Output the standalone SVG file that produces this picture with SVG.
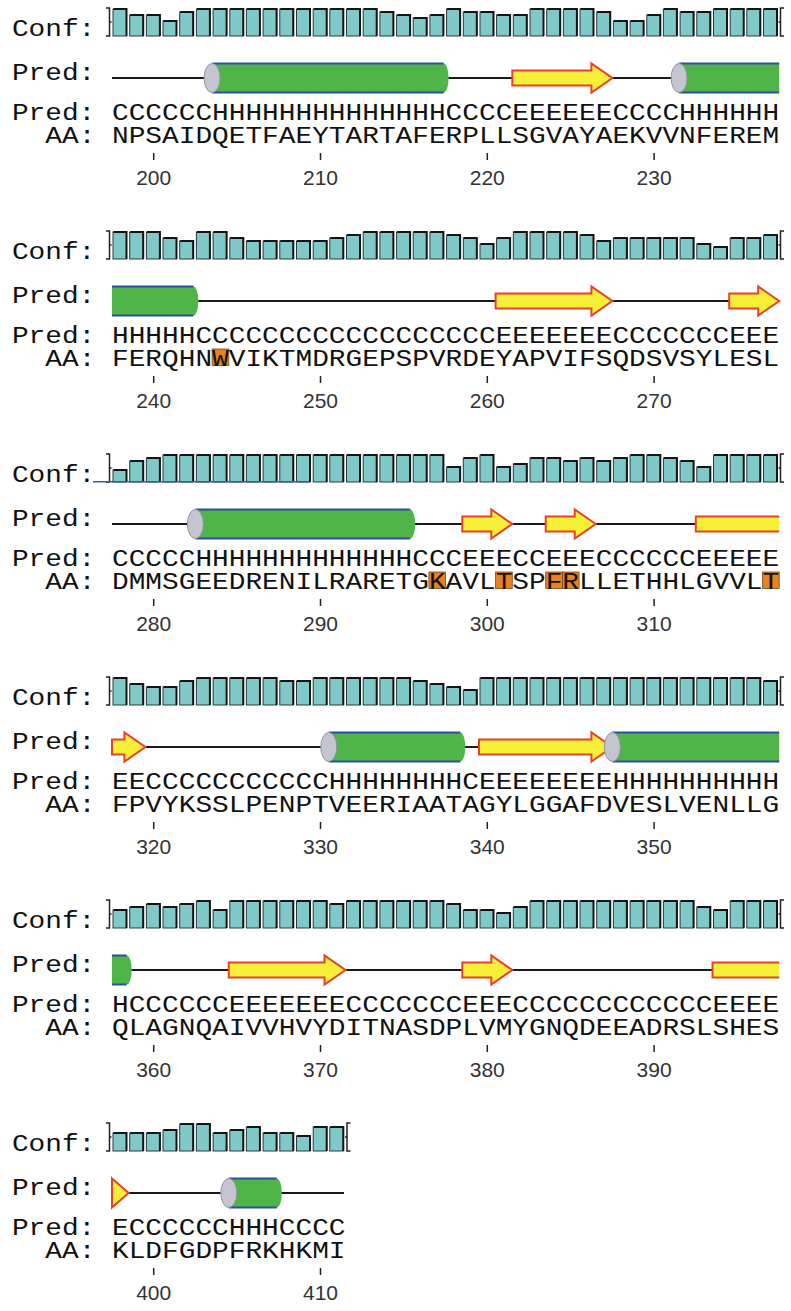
<svg xmlns="http://www.w3.org/2000/svg" width="791" height="1311" viewBox="0 0 791 1311">
<style>
.lbl,.seq{font-family:"Liberation Mono","DejaVu Sans Mono",monospace;font-size:23.5px;fill:#111}
.num{font-family:"Liberation Sans",Arial,sans-serif;font-size:21px;fill:#333;text-anchor:middle}
.brk{fill:none;stroke:#222;stroke-width:1.5}
.coil{stroke:#1a1a1a;stroke-width:1.8}
.helix{fill:#4fb548}
.hedge{fill:none;stroke:#2f4f9e;stroke-width:2}
.cap{fill:#c4c5ce;stroke:#9092a4;stroke-width:1}
.strand{fill:#f5ef38;stroke:#e8412b;stroke-width:2;stroke-linejoin:miter}
.sfill{fill:#f5ef38}
.sedge{fill:none;stroke:#e8412b;stroke-width:2}
.hl{fill:#e8821f;stroke:#6e4a22;stroke-width:0.8}
.tick{stroke:#222;stroke-width:1.5}
.blue{stroke:#3a5ab8;stroke-width:1.5;fill:none}
</style>
<defs>
<g id="b4"><rect x="0" y="24" width="13.5" height="12" fill="#7fc9c8" stroke="#2a3a3a" stroke-width="1"/><path d="M0.5,24 H13.5 V36" fill="none" stroke="#141414" stroke-width="2"/></g>
<g id="b5"><rect x="0" y="21" width="13.5" height="15" fill="#7fc9c8" stroke="#2a3a3a" stroke-width="1"/><path d="M0.5,21 H13.5 V36" fill="none" stroke="#141414" stroke-width="2"/></g>
<g id="b6"><rect x="0" y="18" width="13.5" height="18" fill="#7fc9c8" stroke="#2a3a3a" stroke-width="1"/><path d="M0.5,18 H13.5 V36" fill="none" stroke="#141414" stroke-width="2"/></g>
<g id="b7"><rect x="0" y="15" width="13.5" height="21" fill="#7fc9c8" stroke="#2a3a3a" stroke-width="1"/><path d="M0.5,15 H13.5 V36" fill="none" stroke="#141414" stroke-width="2"/></g>
<g id="b8"><rect x="0" y="12" width="13.5" height="24" fill="#7fc9c8" stroke="#2a3a3a" stroke-width="1"/><path d="M0.5,12 H13.5 V36" fill="none" stroke="#141414" stroke-width="2"/></g>
<g id="b9"><rect x="0" y="9" width="13.5" height="27" fill="#7fc9c8" stroke="#2a3a3a" stroke-width="1"/><path d="M0.5,9 H13.5 V36" fill="none" stroke="#141414" stroke-width="2"/></g>
</defs>
<rect width="791" height="1311" fill="#fff"/>

<g id="connectors">
<line class="coil" x1="112" y1="78" x2="779" y2="78"/>
<line class="coil" x1="112" y1="301" x2="779" y2="301"/>
<line class="coil" x1="112" y1="524" x2="779" y2="524"/>
<line class="coil" x1="112" y1="747" x2="779" y2="747"/>
<line class="coil" x1="112" y1="970" x2="779" y2="970"/>
<line class="coil" x1="112" y1="1193" x2="344" y2="1193"/>
</g>

<g id="row1">
<g id="row1-conf">
<text class="lbl" x="11.9" y="36" textLength="83.4" lengthAdjust="spacingAndGlyphs">Conf:</text>
<path class="brk" d="M106,8 H109.5 V36 H106 M109.5,22 H111.5"/>
<use href="#b9" x="113"/><use href="#b7" x="129.7"/><use href="#b7" x="146.4"/><use href="#b5" x="163"/><use href="#b8" x="179.7"/>
<use href="#b9" x="196.4"/><use href="#b9" x="213.1"/><use href="#b9" x="229.8"/><use href="#b9" x="246.4"/><use href="#b9" x="263.1"/>
<use href="#b9" x="279.8"/><use href="#b9" x="296.5"/><use href="#b9" x="313.2"/><use href="#b9" x="329.8"/><use href="#b9" x="346.5"/>
<use href="#b9" x="363.2"/><use href="#b8" x="379.9"/><use href="#b7" x="396.6"/><use href="#b6" x="413.2"/><use href="#b7" x="429.9"/>
<use href="#b9" x="446.6"/><use href="#b8" x="463.3"/><use href="#b8" x="480"/><use href="#b7" x="496.6"/><use href="#b7" x="513.3"/>
<use href="#b9" x="530"/><use href="#b9" x="546.7"/><use href="#b9" x="563.4"/><use href="#b9" x="580"/><use href="#b8" x="596.7"/>
<use href="#b5" x="613.4"/><use href="#b5" x="630.1"/><use href="#b7" x="646.8"/><use href="#b9" x="663.4"/><use href="#b8" x="680.1"/>
<use href="#b8" x="696.8"/><use href="#b9" x="713.5"/><use href="#b9" x="730.2"/><use href="#b9" x="746.8"/><use href="#b9" x="763.5"/>
<path class="brk" d="M784,8 H780.5 V36 H784 M780.5,22 H778.5"/>
</g>
<g id="row1-pred">
<text class="lbl" x="11.9" y="79.5" textLength="83.4" lengthAdjust="spacingAndGlyphs">Pred:</text>
<path class="helix" d="M212.1,63.5 H443.6 A5,14.5 0 0 1 443.6,92.5 H212.1 Z"/>
<path class="hedge" d="M212.1,63.5 H443.6 M212.1,92.5 H443.6"/>
<ellipse class="cap" cx="212.1" cy="78" rx="8" ry="14.5"/>
<polygon class="strand" points="512.3,70.5 591.4,70.5 591.4,63.5 612.4,78 591.4,92.5 591.4,85.5 512.3,85.5"/>
<path class="helix" d="M679.1,63.5 H779.2 V92.5 H679.1 Z"/>
<path class="hedge" d="M679.1,63.5 H779.2 M679.1,92.5 H779.2"/>
<ellipse class="cap" cx="679.1" cy="78" rx="8" ry="14.5"/>
</g>
<g id="row1-seq">
<text class="lbl" x="11.9" y="119.5" textLength="83.4" lengthAdjust="spacingAndGlyphs">Pred:</text>
<text class="seq" x="112" y="119.5" textLength="667.2" lengthAdjust="spacingAndGlyphs">CCCCCCHHHHHHHHHHHHHHCCCCEEEEEECCCCHHHHHH</text>
<text class="lbl" x="45.3" y="143" textLength="50" lengthAdjust="spacingAndGlyphs">AA:</text>
<text class="seq" x="112" y="143" textLength="667.2" lengthAdjust="spacingAndGlyphs">NPSAIDQETFAEYTARTAFERPLLSGVAYAEKVVNFEREM</text>
<path class="tick" d="M153.7,153 V160 M320.5,153 V160 M487.3,153 V160 M654.1,153 V160"/>
<text class="num" x="153.7" y="185">200</text><text class="num" x="320.5" y="185">210</text><text class="num" x="487.3" y="185">220</text><text class="num" x="654.1" y="185">230</text>
</g>
</g>

<g id="row2" transform="translate(0,223)">
<g id="row2-conf">
<text class="lbl" x="11.9" y="36" textLength="83.4" lengthAdjust="spacingAndGlyphs">Conf:</text>
<path class="brk" d="M106,8 H109.5 V36 H106 M109.5,22 H111.5"/>
<use href="#b9" x="113"/><use href="#b9" x="129.7"/><use href="#b9" x="146.4"/><use href="#b7" x="163"/><use href="#b6" x="179.7"/>
<use href="#b9" x="196.4"/><use href="#b9" x="213.1"/><use href="#b7" x="229.8"/><use href="#b6" x="246.4"/><use href="#b6" x="263.1"/>
<use href="#b6" x="279.8"/><use href="#b6" x="296.5"/><use href="#b6" x="313.2"/><use href="#b7" x="329.8"/><use href="#b8" x="346.5"/>
<use href="#b9" x="363.2"/><use href="#b9" x="379.9"/><use href="#b9" x="396.6"/><use href="#b9" x="413.2"/><use href="#b9" x="429.9"/>
<use href="#b8" x="446.6"/><use href="#b7" x="463.3"/><use href="#b5" x="480"/><use href="#b7" x="496.6"/><use href="#b9" x="513.3"/>
<use href="#b9" x="530"/><use href="#b9" x="546.7"/><use href="#b9" x="563.4"/><use href="#b8" x="580"/><use href="#b6" x="596.7"/>
<use href="#b7" x="613.4"/><use href="#b7" x="630.1"/><use href="#b7" x="646.8"/><use href="#b7" x="663.4"/><use href="#b7" x="680.1"/>
<use href="#b5" x="696.8"/><use href="#b4" x="713.5"/><use href="#b7" x="730.2"/><use href="#b7" x="746.8"/><use href="#b8" x="763.5"/>
<path class="brk" d="M784,8 H780.5 V36 H784 M780.5,22 H778.5"/>
</g>
<g id="row2-pred">
<text class="lbl" x="11.9" y="79.5" textLength="83.4" lengthAdjust="spacingAndGlyphs">Pred:</text>
<path class="helix" d="M112,63.5 H193.4 A5,14.5 0 0 1 193.4,92.5 H112 Z"/>
<path class="hedge" d="M112,63.5 H193.4 M112,92.5 H193.4"/>
<polygon class="strand" points="495.6,70.5 591.4,70.5 591.4,63.5 612.4,78 591.4,92.5 591.4,85.5 495.6,85.5"/>
<polygon class="strand" points="729.2,70.5 758.2,70.5 758.2,63.5 779.2,78 758.2,92.5 758.2,85.5 729.2,85.5"/>
</g>
<g id="row2-seq">
<text class="lbl" x="11.9" y="119.5" textLength="83.4" lengthAdjust="spacingAndGlyphs">Pred:</text>
<text class="seq" x="112" y="119.5" textLength="667.2" lengthAdjust="spacingAndGlyphs">HHHHHCCCCCCCCCCCCCCCCCCEEEEEEECCCCCCCEEE</text>
<text class="lbl" x="45.3" y="143" textLength="50" lengthAdjust="spacingAndGlyphs">AA:</text>
<rect class="hl" x="212.1" y="126" width="16.68" height="16.5"/>
<text class="seq" x="112" y="143" textLength="667.2" lengthAdjust="spacingAndGlyphs">FERQHNWVIKTMDRGEPSPVRDEYAPVIFSQDSVSYLESL</text>
<path class="tick" d="M153.7,153 V160 M320.5,153 V160 M487.3,153 V160 M654.1,153 V160"/>
<text class="num" x="153.7" y="185">240</text><text class="num" x="320.5" y="185">250</text><text class="num" x="487.3" y="185">260</text><text class="num" x="654.1" y="185">270</text>
</g>
</g>

<g id="row3" transform="translate(0,446)">
<g id="row3-conf">
<text class="lbl" x="11.9" y="36" textLength="83.4" lengthAdjust="spacingAndGlyphs">Conf:</text>
<path class="brk" d="M106,8 H109.5 V36 H106 M109.5,22 H111.5"/>
<use href="#b4" x="113"/><use href="#b7" x="129.7"/><use href="#b8" x="146.4"/><use href="#b9" x="163"/><use href="#b9" x="179.7"/>
<use href="#b9" x="196.4"/><use href="#b9" x="213.1"/><use href="#b9" x="229.8"/><use href="#b9" x="246.4"/><use href="#b9" x="263.1"/>
<use href="#b9" x="279.8"/><use href="#b9" x="296.5"/><use href="#b9" x="313.2"/><use href="#b9" x="329.8"/><use href="#b9" x="346.5"/>
<use href="#b9" x="363.2"/><use href="#b9" x="379.9"/><use href="#b9" x="396.6"/><use href="#b9" x="413.2"/><use href="#b9" x="429.9"/>
<use href="#b5" x="446.6"/><use href="#b8" x="463.3"/><use href="#b9" x="480"/><use href="#b5" x="496.6"/><use href="#b6" x="513.3"/>
<use href="#b8" x="530"/><use href="#b8" x="546.7"/><use href="#b7" x="563.4"/><use href="#b8" x="580"/><use href="#b7" x="596.7"/>
<use href="#b8" x="613.4"/><use href="#b9" x="630.1"/><use href="#b9" x="646.8"/><use href="#b8" x="663.4"/><use href="#b7" x="680.1"/>
<use href="#b5" x="696.8"/><use href="#b9" x="713.5"/><use href="#b9" x="730.2"/><use href="#b9" x="746.8"/><use href="#b9" x="763.5"/>
<path class="brk" d="M784,8 H780.5 V36 H784 M780.5,22 H778.5"/>
<path class="blue" d="M93,35.8 H309"/>
</g>
<g id="row3-pred">
<text class="lbl" x="11.9" y="79.5" textLength="83.4" lengthAdjust="spacingAndGlyphs">Pred:</text>
<path class="helix" d="M195.4,63.5 H410.2 A5,14.5 0 0 1 410.2,92.5 H195.4 Z"/>
<path class="hedge" d="M195.4,63.5 H410.2 M195.4,92.5 H410.2"/>
<ellipse class="cap" cx="195.4" cy="78" rx="8" ry="14.5"/>
<polygon class="strand" points="462.3,70.5 491.3,70.5 491.3,63.5 512.3,78 491.3,92.5 491.3,85.5 462.3,85.5"/>
<polygon class="strand" points="545.7,70.5 574.7,70.5 574.7,63.5 595.7,78 574.7,92.5 574.7,85.5 545.7,85.5"/>
<rect class="sfill" x="695.8" y="70.5" width="83.4" height="15"/>
<path class="sedge" d="M779.2,70.5 H695.8 V85.5 H779.2"/>
</g>
<g id="row3-seq">
<text class="lbl" x="11.9" y="119.5" textLength="83.4" lengthAdjust="spacingAndGlyphs">Pred:</text>
<text class="seq" x="112" y="119.5" textLength="667.2" lengthAdjust="spacingAndGlyphs">CCCCCHHHHHHHHHHHHHCCCEEECCEEECCCCCCEEEEE</text>
<text class="lbl" x="45.3" y="143" textLength="50" lengthAdjust="spacingAndGlyphs">AA:</text>
<rect class="hl" x="428.9" y="126" width="16.68" height="16.5"/>
<rect class="hl" x="495.6" y="126" width="16.68" height="16.5"/>
<rect class="hl" x="545.7" y="126" width="16.68" height="16.5"/>
<rect class="hl" x="562.4" y="126" width="16.68" height="16.5"/>
<rect class="hl" x="762.5" y="126" width="16.68" height="16.5"/>
<text class="seq" x="112" y="143" textLength="667.2" lengthAdjust="spacingAndGlyphs">DMMSGEEDRENILRARETGKAVLTSPFRLLETHHLGVVLT</text>
<path class="tick" d="M153.7,153 V160 M320.5,153 V160 M487.3,153 V160 M654.1,153 V160"/>
<text class="num" x="153.7" y="185">280</text><text class="num" x="320.5" y="185">290</text><text class="num" x="487.3" y="185">300</text><text class="num" x="654.1" y="185">310</text>
</g>
</g>

<g id="row4" transform="translate(0,669)">
<g id="row4-conf">
<text class="lbl" x="11.9" y="36" textLength="83.4" lengthAdjust="spacingAndGlyphs">Conf:</text>
<path class="brk" d="M106,8 H109.5 V36 H106 M109.5,22 H111.5"/>
<use href="#b9" x="113"/><use href="#b7" x="129.7"/><use href="#b6" x="146.4"/><use href="#b6" x="163"/><use href="#b8" x="179.7"/>
<use href="#b9" x="196.4"/><use href="#b9" x="213.1"/><use href="#b9" x="229.8"/><use href="#b9" x="246.4"/><use href="#b9" x="263.1"/>
<use href="#b8" x="279.8"/><use href="#b8" x="296.5"/><use href="#b9" x="313.2"/><use href="#b9" x="329.8"/><use href="#b9" x="346.5"/>
<use href="#b9" x="363.2"/><use href="#b9" x="379.9"/><use href="#b9" x="396.6"/><use href="#b8" x="413.2"/><use href="#b7" x="429.9"/>
<use href="#b6" x="446.6"/><use href="#b5" x="463.3"/><use href="#b9" x="480"/><use href="#b9" x="496.6"/><use href="#b9" x="513.3"/>
<use href="#b9" x="530"/><use href="#b9" x="546.7"/><use href="#b9" x="563.4"/><use href="#b9" x="580"/><use href="#b9" x="596.7"/>
<use href="#b9" x="613.4"/><use href="#b9" x="630.1"/><use href="#b9" x="646.8"/><use href="#b9" x="663.4"/><use href="#b9" x="680.1"/>
<use href="#b9" x="696.8"/><use href="#b9" x="713.5"/><use href="#b9" x="730.2"/><use href="#b9" x="746.8"/><use href="#b8" x="763.5"/>
<path class="brk" d="M784,8 H780.5 V36 H784 M780.5,22 H778.5"/>
</g>
<g id="row4-pred">
<text class="lbl" x="11.9" y="79.5" textLength="83.4" lengthAdjust="spacingAndGlyphs">Pred:</text>
<polygon class="strand" points="112,70.5 124.4,70.5 124.4,63.5 145.4,78 124.4,92.5 124.4,85.5 112,85.5"/>
<path class="helix" d="M328.8,63.5 H460.3 A5,14.5 0 0 1 460.3,92.5 H328.8 Z"/>
<path class="hedge" d="M328.8,63.5 H460.3 M328.8,92.5 H460.3"/>
<ellipse class="cap" cx="328.8" cy="78" rx="8" ry="14.5"/>
<polygon class="strand" points="479,70.5 591.4,70.5 591.4,63.5 612.4,78 591.4,92.5 591.4,85.5 479,85.5"/>
<path class="helix" d="M612.4,63.5 H779.2 V92.5 H612.4 Z"/>
<path class="hedge" d="M612.4,63.5 H779.2 M612.4,92.5 H779.2"/>
<ellipse class="cap" cx="612.4" cy="78" rx="8" ry="14.5"/>
</g>
<g id="row4-seq">
<text class="lbl" x="11.9" y="119.5" textLength="83.4" lengthAdjust="spacingAndGlyphs">Pred:</text>
<text class="seq" x="112" y="119.5" textLength="667.2" lengthAdjust="spacingAndGlyphs">EECCCCCCCCCCCHHHHHHHHCEEEEEEEEHHHHHHHHHH</text>
<text class="lbl" x="45.3" y="143" textLength="50" lengthAdjust="spacingAndGlyphs">AA:</text>
<text class="seq" x="112" y="143" textLength="667.2" lengthAdjust="spacingAndGlyphs">FPVYKSSLPENPTVEERIAATAGYLGGAFDVESLVENLLG</text>
<path class="tick" d="M153.7,153 V160 M320.5,153 V160 M487.3,153 V160 M654.1,153 V160"/>
<text class="num" x="153.7" y="185">320</text><text class="num" x="320.5" y="185">330</text><text class="num" x="487.3" y="185">340</text><text class="num" x="654.1" y="185">350</text>
</g>
</g>

<g id="row5" transform="translate(0,892)">
<g id="row5-conf">
<text class="lbl" x="11.9" y="36" textLength="83.4" lengthAdjust="spacingAndGlyphs">Conf:</text>
<path class="brk" d="M106,8 H109.5 V36 H106 M109.5,22 H111.5"/>
<use href="#b6" x="113"/><use href="#b7" x="129.7"/><use href="#b8" x="146.4"/><use href="#b7" x="163"/><use href="#b8" x="179.7"/>
<use href="#b9" x="196.4"/><use href="#b6" x="213.1"/><use href="#b9" x="229.8"/><use href="#b9" x="246.4"/><use href="#b9" x="263.1"/>
<use href="#b9" x="279.8"/><use href="#b9" x="296.5"/><use href="#b9" x="313.2"/><use href="#b8" x="329.8"/><use href="#b9" x="346.5"/>
<use href="#b9" x="363.2"/><use href="#b9" x="379.9"/><use href="#b9" x="396.6"/><use href="#b9" x="413.2"/><use href="#b9" x="429.9"/>
<use href="#b8" x="446.6"/><use href="#b6" x="463.3"/><use href="#b6" x="480"/><use href="#b5" x="496.6"/><use href="#b7" x="513.3"/>
<use href="#b9" x="530"/><use href="#b9" x="546.7"/><use href="#b9" x="563.4"/><use href="#b9" x="580"/><use href="#b9" x="596.7"/>
<use href="#b9" x="613.4"/><use href="#b9" x="630.1"/><use href="#b9" x="646.8"/><use href="#b9" x="663.4"/><use href="#b9" x="680.1"/>
<use href="#b7" x="696.8"/><use href="#b6" x="713.5"/><use href="#b9" x="730.2"/><use href="#b9" x="746.8"/><use href="#b9" x="763.5"/>
<path class="brk" d="M784,8 H780.5 V36 H784 M780.5,22 H778.5"/>
</g>
<g id="row5-pred">
<text class="lbl" x="11.9" y="79.5" textLength="83.4" lengthAdjust="spacingAndGlyphs">Pred:</text>
<path class="helix" d="M112,63.5 H126.7 A5,14.5 0 0 1 126.7,92.5 H112 Z"/>
<path class="hedge" d="M112,63.5 H126.7 M112,92.5 H126.7"/>
<polygon class="strand" points="228.8,70.5 324.5,70.5 324.5,63.5 345.5,78 324.5,92.5 324.5,85.5 228.8,85.5"/>
<polygon class="strand" points="462.3,70.5 491.3,70.5 491.3,63.5 512.3,78 491.3,92.5 491.3,85.5 462.3,85.5"/>
<rect class="sfill" x="712.5" y="70.5" width="66.7" height="15"/>
<path class="sedge" d="M779.2,70.5 H712.5 V85.5 H779.2"/>
</g>
<g id="row5-seq">
<text class="lbl" x="11.9" y="119.5" textLength="83.4" lengthAdjust="spacingAndGlyphs">Pred:</text>
<text class="seq" x="112" y="119.5" textLength="667.2" lengthAdjust="spacingAndGlyphs">HCCCCCCEEEEEEECCCCCCCEEECCCCCCCCCCCCEEEE</text>
<text class="lbl" x="45.3" y="143" textLength="50" lengthAdjust="spacingAndGlyphs">AA:</text>
<text class="seq" x="112" y="143" textLength="667.2" lengthAdjust="spacingAndGlyphs">QLAGNQAIVVHVYDITNASDPLVMYGNQDEEADRSLSHES</text>
<path class="tick" d="M153.7,153 V160 M320.5,153 V160 M487.3,153 V160 M654.1,153 V160"/>
<text class="num" x="153.7" y="185">360</text><text class="num" x="320.5" y="185">370</text><text class="num" x="487.3" y="185">380</text><text class="num" x="654.1" y="185">390</text>
</g>
</g>

<g id="row6" transform="translate(0,1115)">
<g id="row6-conf">
<text class="lbl" x="11.9" y="36" textLength="83.4" lengthAdjust="spacingAndGlyphs">Conf:</text>
<path class="brk" d="M106,8 H109.5 V36 H106 M109.5,22 H111.5"/>
<use href="#b6" x="113"/><use href="#b6" x="129.7"/><use href="#b6" x="146.4"/><use href="#b7" x="163"/><use href="#b9" x="179.7"/>
<use href="#b9" x="196.4"/><use href="#b6" x="213.1"/><use href="#b7" x="229.8"/><use href="#b8" x="246.4"/><use href="#b6" x="263.1"/>
<use href="#b6" x="279.8"/><use href="#b5" x="296.5"/><use href="#b8" x="313.2"/><use href="#b8" x="329.8"/>
<path class="brk" d="M350.5,8 H347 V36 H350.5 M347,22 H345"/>
</g>
<g id="row6-pred">
<text class="lbl" x="11.9" y="79.5" textLength="83.4" lengthAdjust="spacingAndGlyphs">Pred:</text>
<polygon class="strand" points="112,63.5 128.7,78 112,92.5"/>
<path class="helix" d="M228.8,63.5 H276.8 A5,14.5 0 0 1 276.8,92.5 H228.8 Z"/>
<path class="hedge" d="M228.8,63.5 H276.8 M228.8,92.5 H276.8"/>
<ellipse class="cap" cx="228.8" cy="78" rx="8" ry="14.5"/>
</g>
<g id="row6-seq">
<text class="lbl" x="11.9" y="119.5" textLength="83.4" lengthAdjust="spacingAndGlyphs">Pred:</text>
<text class="seq" x="112" y="119.5" textLength="233.5" lengthAdjust="spacingAndGlyphs">ECCCCCCHHHCCCC</text>
<text class="lbl" x="45.3" y="143" textLength="50" lengthAdjust="spacingAndGlyphs">AA:</text>
<text class="seq" x="112" y="143" textLength="233.5" lengthAdjust="spacingAndGlyphs">KLDFGDPFRKHKMI</text>
<path class="tick" d="M153.7,153 V160 M320.5,153 V160"/>
<text class="num" x="153.7" y="185">400</text><text class="num" x="320.5" y="185">410</text>
</g>
</g>
</svg>
